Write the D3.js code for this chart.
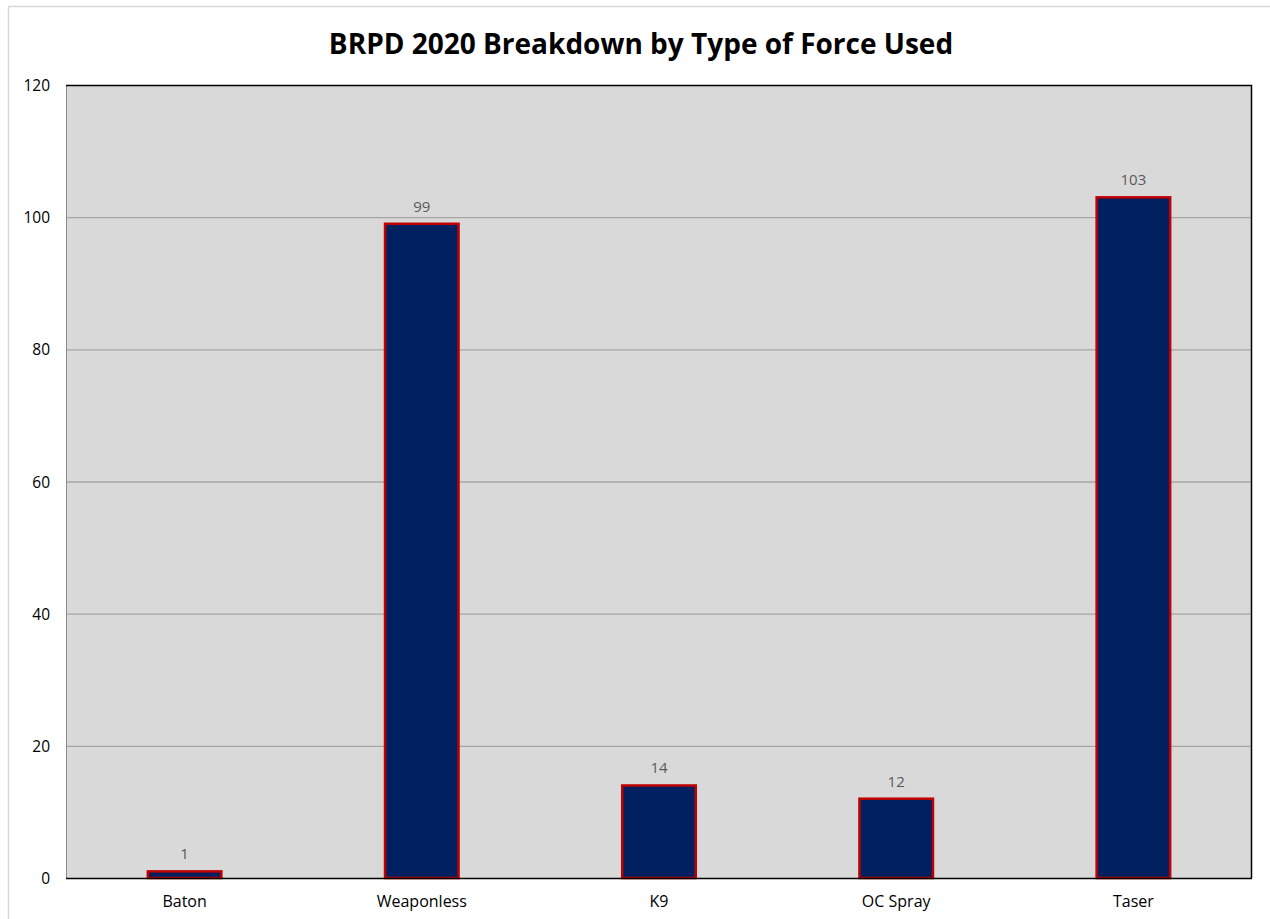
<!DOCTYPE html>
<html>
<head>
<meta charset="utf-8">
<script src="https://cdn.jsdelivr.net/npm/d3@7"></script>
<style>
  body { margin: 0; background: #fff; }
  svg { display: block; font-family: "Open Sans", "Liberation Sans", sans-serif; }
</style>
</head>
<body>
<div id="chart"></div>
<script>
// Chart data
var categories = ["Baton", "Weaponless", "K9", "OC Spray", "Taser"];
var counts = [1, 99, 14, 12, 103];
var yTicks = [0, 20, 40, 60, 80, 100, 120];

var width = 1270,
	height = 919;

var margin = { top: 85, right: 18, bottom: 41, left: 66 };

var svg = d3.select("#chart")
	.append("svg")
	.attr("width", width)
	.attr("height", height);

// Outer chart border
svg.append("rect")
	.attr("x", 8.5)
	.attr("y", 6.5)
	.attr("width", width + 20)
	.attr("height", height + 20)
	.attr("fill", "#fff")
	.attr("stroke", "#d9d9d9")
	.attr("stroke-width", 1.5);

var x = d3.scaleBand()
	.domain(categories)
	.range([margin.left, width - margin.right])
	.paddingInner(0.69)
	.paddingOuter(0.345);

var y = d3.scaleLinear()
	.domain([0, 120])
	.range([height - margin.bottom, margin.top]);

// Plot area background
svg.append("rect")
	.attr("x", margin.left)
	.attr("y", margin.top)
	.attr("width", width - margin.right - margin.left)
	.attr("height", y(0) - margin.top)
	.attr("fill", "#d9d9d9");

// Gridlines
svg.append("g")
	.selectAll("line")
	.data(yTicks.filter(d => d > 0 && d < 120))
	.enter().append("line")
	.attr("x1", margin.left)
	.attr("x2", width - margin.right)
	.attr("y1", d => y(d) + 0.5)
	.attr("y2", d => y(d) + 0.5)
	.attr("stroke", "#a6a6a6")
	.attr("stroke-width", 1.3);

// Plot area frame: gray left, dark top/right
svg.append("line")
	.attr("x1", margin.left + 0.5).attr("x2", margin.left + 0.5)
	.attr("y1", margin.top).attr("y2", y(0))
	.attr("stroke", "#8c8c8c").attr("stroke-width", 1);
svg.append("path")
	.attr("d", "M" + margin.left + "," + (margin.top + 0.5) + "H" + (width - margin.right - 0.5) + "V" + y(0))
	.attr("fill", "none")
	.attr("stroke", "#000")
	.attr("stroke-width", 1.5);

// Bars
svg.append("g")
	.selectAll("rect")
	.data(categories)
	.enter().append("rect")
	.attr("x", d => x(d))
	.attr("y", (d, i) => y(counts[i]))
	.attr("width", x.bandwidth())
	.attr("height", (d, i) => y(0) - y(counts[i]))
	.attr("fill", "#002060")
	.attr("stroke", "#c00000")
	.attr("stroke-width", 2.5);

// Bottom axis line
svg.append("line")
	.attr("x1", margin.left)
	.attr("x2", width - margin.right)
	.attr("y1", y(0) + 0.5)
	.attr("y2", y(0) + 0.5)
	.attr("stroke", "#000")
	.attr("stroke-width", 1.5);

// Data labels
svg.append("g")
	.selectAll("text")
	.data(categories)
	.enter().append("text")
	.attr("x", d => x(d) + x.bandwidth() / 2)
	.attr("y", (d, i) => y(counts[i]) - 12)
	.attr("text-anchor", "middle")
	.attr("font-size", 15)
	.attr("fill", "#595959")
	.text((d, i) => counts[i]);

// Y tick labels
svg.append("g")
	.selectAll("text")
	.data(yTicks)
	.enter().append("text")
	.attr("x", 50)
	.attr("y", d => y(d) + 6)
	.attr("text-anchor", "end")
	.attr("font-size", 15.5)
	.attr("fill", "#000")
	.text(d => d);

// X category labels
svg.append("g")
	.selectAll("text")
	.data(categories)
	.enter().append("text")
	.attr("x", d => x(d) + x.bandwidth() / 2)
	.attr("y", y(0) + 29)
	.attr("text-anchor", "middle")
	.attr("font-size", 16)
	.attr("fill", "#000")
	.text(d => d);

// Title
svg.append("text")
	.attr("x", 641)
	.attr("y", 54)
	.attr("text-anchor", "middle")
	.attr("font-size", 28)
	.attr("font-weight", "bold")
	.attr("fill", "#000")
	.text("BRPD 2020 Breakdown by Type of Force Used");
</script>
</body>
</html>
